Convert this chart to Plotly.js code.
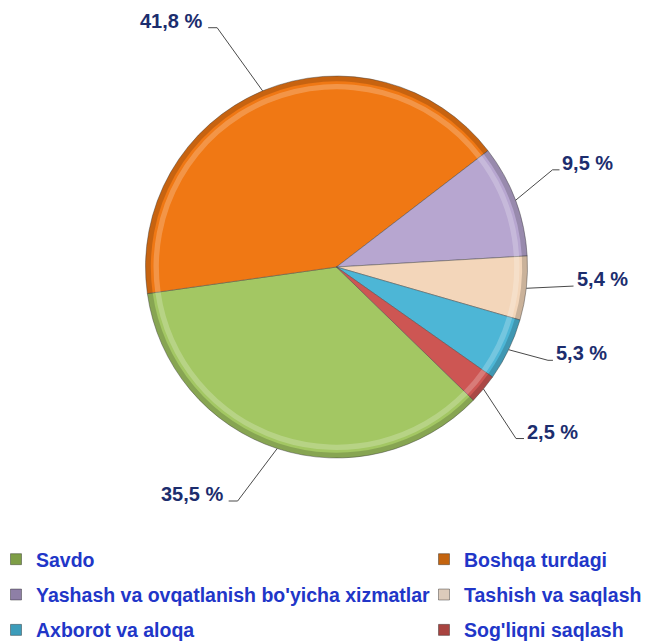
<!DOCTYPE html>
<html><head><meta charset="utf-8">
<script src="https://cdn.plot.ly/plotly-3.0.1.min.js"></script>
<style>html,body{margin:0;padding:0;background:#fff;overflow:hidden}</style>
</head><body><div id="chart" style="width:650px;height:642px"></div>
<script>
// ---- data ----
const categories = ["Savdo", "Boshqa turdagi", "Yashash va ovqatlanish bo'yicha xizmatlar", "Tashish va saqlash", "Axborot va aloqa", "Sog'liqni saqlash"];
const shares = [35.5, 41.8, 9.5, 5.4, 5.3, 2.5];

// ---- styles ----
const sliceColors = ["#A3C763", "#F07814", "#B7A6D0", "#F3D6BA", "#4DB6D6", "#CD5653"];
const legendColors = ["#7E9E46", "#C4640F", "#8E7FA6", "#DCCBBB", "#3C9CBA", "#A8433F"];
const W = 650, H = 642, CX = 336.5, CY = 267, R = 191;
const rotation = 134.2;
// leader-line geometry per slice (layout only)
const elbowFactor = [1.33, 1.40, 1.24, 1.245, 1.21, 1.30];
const elbowShift = [4.8, -3.75, -3.8, -1.8, -1.85, 4.0];
const tails = [9, 9, 7, 0, 5, 8];
const gapLeft = 4, gapRight = 1, textLift = 7;

const px = x => x / W, py = y => 1 - y / H;
const total = shares.reduce((a, b) => a + b, 0);

const shapes = [], annotations = [];
let acc = rotation;
shares.forEach((v, i) => {
  const span = 360 * v / total;
  const mid = acc + span / 2;
  acc += span;
  const t = mid * Math.PI / 180;
  const ex = CX + R * Math.sin(t), ey = CY - R * Math.cos(t);
  const t2 = (mid + elbowShift[i]) * Math.PI / 180;
  const bx = CX + R * elbowFactor[i] * Math.sin(t2), by = CY - R * elbowFactor[i] * Math.cos(t2);
  const left = Math.sin(t2) < 0;
  const tx = bx + (left ? -tails[i] : tails[i]);
  shapes.push({type: 'path', xref: 'paper', yref: 'paper',
    path: `M${px(ex)},${py(ey)} L${px(bx)},${py(by)} L${px(tx)},${py(by)}`,
    line: {color: '#4a4a4a', width: 1}});
  annotations.push({xref: 'paper', yref: 'paper', showarrow: false,
    x: px(tx + (left ? -gapLeft : gapRight)), y: py(by - textLift),
    xanchor: left ? 'right' : 'left', yanchor: 'middle',
    text: v.toFixed(1).replace('.', ',') + ' %',
    font: {family: 'Liberation Sans, Arial, sans-serif', size: 20, weight: 'bold', color: '#1C2D6E'}});
});

const dom = r => ({x: [px(CX - r), px(CX + r)], y: [py(CY + r), py(CY - r)]});
const pieBase = {type: 'pie', labels: categories, values: shares, sort: false, direction: 'clockwise',
  rotation: rotation, textinfo: 'none', showlegend: false};
const traces = [
  Object.assign({}, pieBase, {hoverinfo: 'label+percent', domain: dom(R),
    marker: {colors: sliceColors, line: {color: 'rgba(70,70,70,0.45)', width: 1}}}),
  Object.assign({}, pieBase, {hoverinfo: 'skip', hole: 0.972, domain: dom(R),
    marker: {colors: shares.map(() => 'rgba(0,0,0,0.17)'), line: {width: 0}}}),
  Object.assign({}, pieBase, {hoverinfo: 'skip', hole: 0.93 / 0.958, domain: dom(R * 0.958),
    marker: {colors: shares.map(() => 'rgba(255,255,255,0.22)'), line: {width: 0}}})
];
categories.forEach((c, i) => {
  traces.push({type: 'scatter', mode: 'markers', x: [null], y: [null], name: c,
    legend: i % 2 === 0 ? 'legend' : 'legend2', legendgroup: 'g' + i,
    marker: {symbol: 'square', size: 11, color: legendColors[i], line: {color: 'rgba(0,0,0,0.35)', width: 1}},
    hoverinfo: 'skip'});
});

const legendFont = {family: 'Liberation Sans, Arial, sans-serif', size: 19.5, weight: 'bold', color: '#2136C8'};
const legendCommon = {y: py(540), yanchor: 'top', xanchor: 'left', orientation: 'v', tracegroupgap: 7, font: legendFont, bgcolor: 'rgba(0,0,0,0)'};
const layout = {
  width: W, height: H, margin: {l: 0, r: 0, t: 0, b: 0, autoexpand: false},
  paper_bgcolor: '#fff', plot_bgcolor: '#fff',
  xaxis: {visible: false}, yaxis: {visible: false},
  shapes: shapes, annotations: annotations,
  legend: Object.assign({x: px(-4)}, legendCommon),
  legend2: Object.assign({x: px(424)}, legendCommon)
};
Plotly.newPlot('chart', traces, layout, {displayModeBar: false, staticPlot: true});
</script></body></html>
